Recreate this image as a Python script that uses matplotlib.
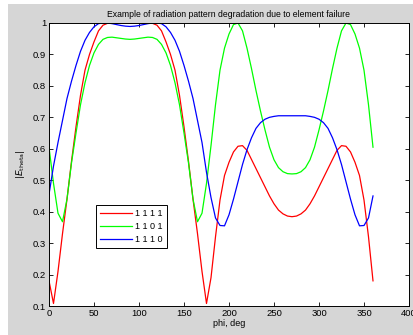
import numpy as np
import matplotlib
matplotlib.use('Agg')
import matplotlib.pyplot as plt
from matplotlib.patches import Rectangle

# angle samples, deg
phi = list(range(0, 365, 5))

# |E_theta|, one value per 5 deg
e_1111 = [0.18, 0.108, 0.21, 0.33, 0.44, 0.56, 0.67, 0.77, 0.85, 0.90,
          0.94, 0.975, 0.993, 0.999, 1.0, 1.0, 1.0, 1.0, 1.0, 1.0,
          1.0, 1.0, 1.0, 0.999, 0.993, 0.975, 0.94, 0.90, 0.85, 0.77,
          0.67, 0.56, 0.44, 0.33, 0.21, 0.108, 0.19, 0.32, 0.437, 0.515,
          0.557, 0.59, 0.608, 0.61, 0.595, 0.566, 0.537, 0.508, 0.479, 0.45,
          0.425, 0.405, 0.393, 0.386, 0.384, 0.386, 0.393, 0.405, 0.425, 0.45,
          0.479, 0.508, 0.537, 0.566, 0.595, 0.61, 0.608, 0.59, 0.557, 0.515,
          0.437, 0.32, 0.18]
e_1101 = [0.605, 0.49, 0.395, 0.368, 0.44, 0.555, 0.65, 0.74, 0.81, 0.865,
          0.905, 0.932, 0.948, 0.954, 0.955, 0.953, 0.951, 0.949, 0.948, 0.949,
          0.951, 0.953, 0.955, 0.954, 0.948, 0.932, 0.905, 0.865, 0.81, 0.74,
          0.65, 0.555, 0.44, 0.368, 0.395, 0.49, 0.61, 0.74, 0.85, 0.92,
          0.965, 0.995, 1.0, 0.975, 0.92, 0.855, 0.785, 0.72, 0.66, 0.605,
          0.565, 0.54, 0.527, 0.521, 0.52, 0.521, 0.527, 0.54, 0.565, 0.605,
          0.66, 0.72, 0.785, 0.855, 0.92, 0.975, 1.0, 0.995, 0.965, 0.92,
          0.85, 0.74, 0.605]
e_1110 = [0.455, 0.545, 0.62, 0.69, 0.76, 0.815, 0.865, 0.91, 0.945, 0.97,
          0.988, 0.998, 1.0, 1.0, 0.998, 0.995, 0.992, 0.99, 0.989, 0.99,
          0.992, 0.995, 0.998, 1.0, 1.0, 0.998, 0.988, 0.97, 0.945, 0.91,
          0.865, 0.815, 0.76, 0.69, 0.62, 0.525, 0.445, 0.38, 0.356, 0.355,
          0.39, 0.44, 0.495, 0.55, 0.597, 0.635, 0.665, 0.683, 0.694, 0.70,
          0.703, 0.705, 0.705, 0.705, 0.705, 0.705, 0.705, 0.705, 0.703, 0.70,
          0.694, 0.683, 0.665, 0.635, 0.597, 0.55, 0.495, 0.44, 0.39, 0.355,
          0.356, 0.38, 0.45]
labels = ['1 1 1 1', '1 1 0 1', '1 1 1 0']

plt.rcParams['font.family'] = ['Liberation Sans', 'DejaVu Sans']

fig = plt.figure(figsize=(4.14, 3.35), dpi=100, facecolor='white')
# grey matlab-style figure background (white strip left/top from the screenshot)
fig.patches.append(Rectangle((8 / 414, 0), 1, 331 / 335, transform=fig.transFigure,
                             facecolor='#d6d6d6', edgecolor='none', zorder=-10))

ax = fig.add_axes([49 / 414, 29 / 335, 360 / 414, 283 / 335])
ax.plot(phi, e_1111, color='#ff0000', lw=0.9, label=labels[0])
ax.plot(phi, e_1101, color='#00ff00', lw=0.9, label=labels[1])
ax.plot(phi, e_1110, color='#0000ff', lw=0.9, label=labels[2])

ax.set_xlim(0, 400)
ax.set_ylim(0.1, 1)
ax.set_xticks(np.arange(0, 401, 50))
ax.set_yticks(np.arange(0.1, 1.01, 0.1))
ax.set_yticklabels(['0.1', '0.2', '0.3', '0.4', '0.5', '0.6', '0.7', '0.8', '0.9', '1'])
ax.tick_params(direction='in', top=True, right=True, length=3, width=0.6,
               labelsize=6.8, pad=2)
for s in ax.spines.values():
    s.set_linewidth(0.7)

ax.set_title('Example of radiation pattern degradation due to element failure',
             fontsize=6.2, pad=4)
ax.set_xlabel('phi, deg', fontsize=6.5, labelpad=1)
ax.set_ylabel(r'$|E_{\rm theta}|$', fontsize=6.5, labelpad=4)

leg = ax.legend(loc='upper left', bbox_to_anchor=(0.13, 0.357), fontsize=6.5,
                fancybox=False, edgecolor='black', framealpha=1,
                handlelength=3.5, handletextpad=0.3, borderpad=0.5,
                labelspacing=0.4, borderaxespad=0)
leg.get_frame().set_linewidth(0.7)

plt.savefig('out.png', dpi=100, facecolor=fig.get_facecolor())
